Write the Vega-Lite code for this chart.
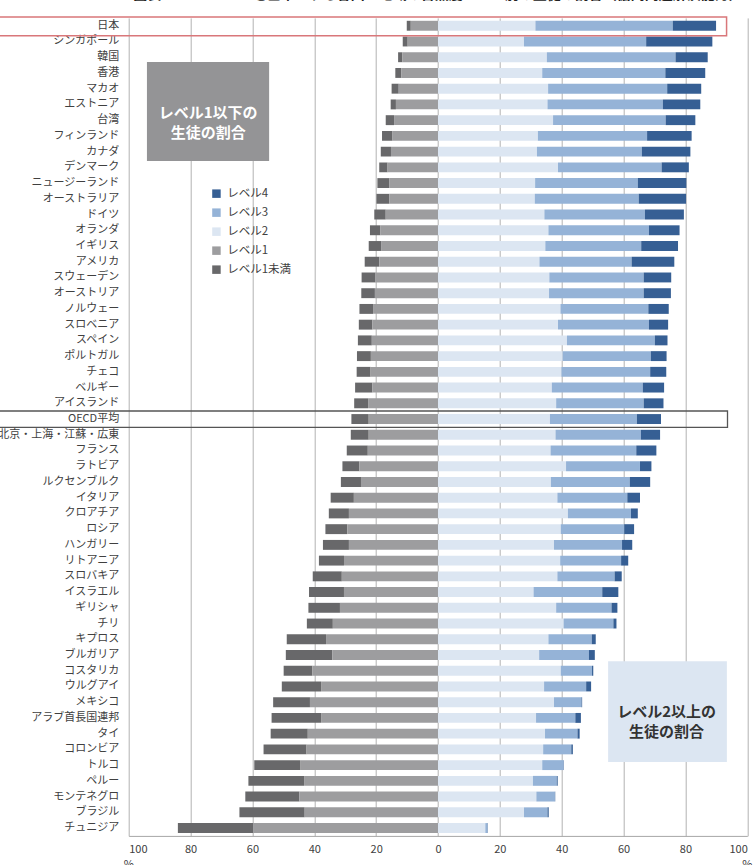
{
  "$schema": "https://vega.github.io/schema/vega-lite/v6.json",
  "autosize": {"type": "none"},
  "padding": {"left": 128.7, "top": 17.9, "right": 7.7, "bottom": 29.1},
  "width": 618.6,
  "height": 818,
  "background": "white",
  "title": {"text": "図表 1-3-4 レベル2を基準とする各国・地域の習熟度レベル別の生徒の割合（協同問題解決能力）", "fontSize": 14, "fontWeight": "bold", "color": "#222222", "anchor": "middle", "offset": 14},
  "config": {"font": "Noto Sans CJK JP", "view": {"stroke": null}},
  "layer": [
    {
      "data": {"values": [
        {"c": "日本", "L1b": -1.3, "L1": -8.8, "L2": 31.5, "L3": 44.4, "L4": 14.0},
        {"c": "シンガポール", "L1b": -1.6, "L1": -9.8, "L2": 27.8, "L3": 39.5, "L4": 21.4},
        {"c": "韓国", "L1b": -1.4, "L1": -11.5, "L2": 35.2, "L3": 41.6, "L4": 10.4},
        {"c": "香港", "L1b": -1.9, "L1": -11.9, "L2": 33.7, "L3": 39.8, "L4": 12.9},
        {"c": "マカオ", "L1b": -2.3, "L1": -12.7, "L2": 35.6, "L3": 38.5, "L4": 11.0},
        {"c": "エストニア", "L1b": -1.7, "L1": -13.6, "L2": 35.4, "L3": 37.3, "L4": 12.1},
        {"c": "台湾", "L1b": -2.7, "L1": -14.2, "L2": 37.2, "L3": 36.4, "L4": 9.6},
        {"c": "フィンランド", "L1b": -3.4, "L1": -14.7, "L2": 32.3, "L3": 35.3, "L4": 14.4},
        {"c": "カナダ", "L1b": -3.3, "L1": -15.2, "L2": 32.0, "L3": 33.9, "L4": 15.7},
        {"c": "デンマーク", "L1b": -2.7, "L1": -16.3, "L2": 38.8, "L3": 33.5, "L4": 8.8},
        {"c": "ニュージーランド", "L1b": -3.8, "L1": -15.8, "L2": 31.4, "L3": 33.2, "L4": 15.7},
        {"c": "オーストラリア", "L1b": -4.2, "L1": -15.7, "L2": 31.3, "L3": 33.6, "L4": 15.3},
        {"c": "ドイツ", "L1b": -3.7, "L1": -16.9, "L2": 34.4, "L3": 32.5, "L4": 12.6},
        {"c": "オランダ", "L1b": -3.4, "L1": -18.6, "L2": 35.7, "L3": 32.5, "L4": 9.9},
        {"c": "イギリス", "L1b": -4.0, "L1": -18.4, "L2": 34.7, "L3": 31.0, "L4": 11.9},
        {"c": "アメリカ", "L1b": -4.7, "L1": -19.0, "L2": 32.8, "L3": 29.8, "L4": 13.8},
        {"c": "スウェーデン", "L1b": -4.5, "L1": -20.2, "L2": 36.0, "L3": 30.5, "L4": 8.9},
        {"c": "オーストリア", "L1b": -4.4, "L1": -20.4, "L2": 35.9, "L3": 30.6, "L4": 8.8},
        {"c": "ノルウェー", "L1b": -4.4, "L1": -21.0, "L2": 39.6, "L3": 28.4, "L4": 6.6},
        {"c": "スロベニア", "L1b": -4.4, "L1": -21.2, "L2": 38.8, "L3": 29.4, "L4": 6.2},
        {"c": "スペイン", "L1b": -4.5, "L1": -21.4, "L2": 41.7, "L3": 28.4, "L4": 4.1},
        {"c": "ポルトガル", "L1b": -4.5, "L1": -21.7, "L2": 40.3, "L3": 28.5, "L4": 5.1},
        {"c": "チェコ", "L1b": -4.5, "L1": -21.8, "L2": 39.9, "L3": 28.7, "L4": 5.2},
        {"c": "ベルギー", "L1b": -5.6, "L1": -21.2, "L2": 36.8, "L3": 29.4, "L4": 6.9},
        {"c": "アイスランド", "L1b": -4.5, "L1": -22.6, "L2": 38.2, "L3": 28.3, "L4": 6.4},
        {"c": "OECD平均", "L1b": -5.6, "L1": -22.4, "L2": 36.2, "L3": 28.1, "L4": 7.8},
        {"c": "北京・上海・江蘇・広東", "L1b": -5.8, "L1": -22.4, "L2": 38.0, "L3": 27.6, "L4": 6.2},
        {"c": "フランス", "L1b": -6.8, "L1": -22.7, "L2": 36.4, "L3": 27.7, "L4": 6.5},
        {"c": "ラトビア", "L1b": -5.5, "L1": -25.4, "L2": 41.4, "L3": 23.9, "L4": 3.7},
        {"c": "ルクセンブルク", "L1b": -6.5, "L1": -24.9, "L2": 36.5, "L3": 25.5, "L4": 6.6},
        {"c": "イタリア", "L1b": -7.5, "L1": -27.2, "L2": 38.6, "L3": 22.6, "L4": 4.1},
        {"c": "クロアチア", "L1b": -6.5, "L1": -28.8, "L2": 42.0, "L3": 20.4, "L4": 2.2},
        {"c": "ロシア", "L1b": -7.1, "L1": -29.3, "L2": 39.7, "L3": 20.5, "L4": 3.2},
        {"c": "ハンガリー", "L1b": -8.4, "L1": -28.8, "L2": 37.5, "L3": 22.0, "L4": 3.3},
        {"c": "リトアニア", "L1b": -8.1, "L1": -30.4, "L2": 39.5, "L3": 19.7, "L4": 2.3},
        {"c": "スロバキア", "L1b": -9.4, "L1": -31.1, "L2": 38.6, "L3": 18.5, "L4": 2.3},
        {"c": "イスラエル", "L1b": -11.3, "L1": -30.4, "L2": 30.9, "L3": 22.2, "L4": 5.2},
        {"c": "ギリシャ", "L1b": -10.2, "L1": -31.7, "L2": 38.2, "L3": 17.9, "L4": 1.9},
        {"c": "チリ", "L1b": -8.4, "L1": -34.0, "L2": 40.6, "L3": 16.1, "L4": 1.0},
        {"c": "キプロス", "L1b": -12.7, "L1": -36.2, "L2": 35.7, "L3": 14.0, "L4": 1.3},
        {"c": "ブルガリア", "L1b": -15.0, "L1": -34.2, "L2": 32.7, "L3": 16.1, "L4": 1.9},
        {"c": "コスタリカ", "L1b": -9.3, "L1": -40.6, "L2": 39.7, "L3": 10.1, "L4": 0.4},
        {"c": "ウルグアイ", "L1b": -12.7, "L1": -37.8, "L2": 34.3, "L3": 13.6, "L4": 1.6},
        {"c": "メキシコ", "L1b": -11.9, "L1": -41.4, "L2": 37.5, "L3": 8.9, "L4": 0.2},
        {"c": "アラブ首長国連邦", "L1b": -16.0, "L1": -37.8, "L2": 31.7, "L3": 12.7, "L4": 1.8},
        {"c": "タイ", "L1b": -12.0, "L1": -42.1, "L2": 34.6, "L3": 10.5, "L4": 0.7},
        {"c": "コロンビア", "L1b": -13.9, "L1": -42.5, "L2": 34.0, "L3": 9.1, "L4": 0.5},
        {"c": "トルコ", "L1b": -14.8, "L1": -44.6, "L2": 33.7, "L3": 6.9, "L4": 0.1},
        {"c": "ペルー", "L1b": -18.0, "L1": -43.3, "L2": 30.7, "L3": 7.7, "L4": 0.3},
        {"c": "モンテネグロ", "L1b": -17.5, "L1": -44.8, "L2": 31.8, "L3": 6.0, "L4": 0.1},
        {"c": "ブラジル", "L1b": -21.1, "L1": -43.1, "L2": 27.8, "L3": 7.6, "L4": 0.4},
        {"c": "チュニジア", "L1b": -24.4, "L1": -59.7, "L2": 15.3, "L3": 0.7, "L4": 0.1}
      ]},
      "transform": [{"fold": ["L1b", "L1", "L2", "L3", "L4"], "as": ["key", "value"]}],
      "mark": {"type": "bar"},
      "encoding": {
        "y": {"field": "c", "type": "nominal", "sort": null,
          "scale": {"paddingInner": 0.37, "paddingOuter": 0.185},
          "axis": {"title": null, "ticks": false, "domain": false, "labelPadding": 10, "labelFontSize": 11, "labelColor": "#404040", "labelLimit": 200}},
        "x": {"field": "value", "type": "quantitative", "stack": "zero",
          "scale": {"domain": [-100, 100], "nice": false},
          "axis": {"title": null, "values": [-100, -80, -60, -40, -20, 0, 20, 40, 60, 80, 100], "labelExpr": "abs(datum.value)", "grid": true, "gridColor": "#b3b3b3", "ticks": false, "domainColor": "#a6a6a6", "labelFontSize": 11, "labelColor": "#404040", "labelPadding": 8}},
        "color": {"field": "key", "type": "nominal",
          "scale": {"domain": ["L4", "L3", "L2", "L1", "L1b"], "range": ["#365f94", "#95b3d7", "#dce6f2", "#9d9d9f", "#68686a"]},
          "legend": {"title": null, "orient": "none", "legendX": 82, "legendY": 170, "symbolType": "square", "symbolSize": 72, "symbolStrokeWidth": 0, "labelFontSize": 11.5, "labelColor": "#404040", "rowPadding": 6, "labelOffset": 5, "padding": 0,
            "labelExpr": "datum.value == 'L4' ? 'レベル4' : datum.value == 'L3' ? 'レベル3' : datum.value == 'L2' ? 'レベル2' : datum.value == 'L1' ? 'レベル1' : 'レベル1未満'"}},
        "order": {"field": "key", "sort": "ascending"}
      }
    },
    {
      "encoding": {
        "y": {"field": "r1", "type": "quantitative", "scale": {"domain": [0, 52], "reverse": true, "nice": false, "zero": false}, "axis": null}
      },
      "layer": [
        {
          "data": {"values": [{"x1": -94.1, "x2": -54.6, "r1": 2.8, "r2": 9.1}]},
          "mark": {"type": "rect", "fill": "#949496"},
          "encoding": {"x": {"field": "x1", "type": "quantitative"}, "x2": {"field": "x2"}, "y2": {"field": "r2"}}
        },
        {
          "data": {"values": [{"x1": 55.0, "x2": 93.4, "r1": 40.9, "r2": 47.3}]},
          "mark": {"type": "rect", "fill": "#dce6f2"},
          "encoding": {"x": {"field": "x1", "type": "quantitative"}, "x2": {"field": "x2"}, "y2": {"field": "r2"}}
        },
        {
          "data": {"values": [{"x1": -74.3, "r1": 6.05, "t": "レベル1以下の\n生徒の割合"}]},
          "mark": {"type": "text", "color": "white", "fontSize": 15, "fontWeight": "bold", "lineBreak": "\n", "lineHeight": 20, "align": "center", "baseline": "middle"},
          "encoding": {"x": {"field": "x1", "type": "quantitative"}, "text": {"field": "t"}}
        },
        {
          "data": {"values": [{"x1": 73.9, "r1": 44.1, "t": "レベル2以上の\n生徒の割合"}]},
          "mark": {"type": "text", "color": "#333333", "fontSize": 15, "fontWeight": "bold", "lineBreak": "\n", "lineHeight": 20, "align": "center", "baseline": "middle"},
          "encoding": {"x": {"field": "x1", "type": "quantitative"}, "text": {"field": "t"}}
        },
        {
          "data": {"values": [{"x1": -142, "x2": 93.3, "r1": -0.06, "r2": 1.13}]},
          "mark": {"type": "rect", "filled": false, "stroke": "#d9777a", "strokeWidth": 1.5},
          "encoding": {"x": {"field": "x1", "type": "quantitative"}, "x2": {"field": "x2"}, "y2": {"field": "r2"}}
        },
        {
          "data": {"values": [{"x1": -142, "x2": 93.6, "r1": 24.99, "r2": 26.03}]},
          "mark": {"type": "rect", "filled": false, "stroke": "#555555", "strokeWidth": 1.3},
          "encoding": {"x": {"field": "x1", "type": "quantitative"}, "x2": {"field": "x2"}, "y2": {"field": "r2"}}
        },
        {
          "data": {"values": [{"x1": -100, "r1": 53.5, "t": "%"}, {"x1": 100, "r1": 53.5, "t": "%"}]},
          "mark": {"type": "text", "color": "#404040", "fontSize": 11, "baseline": "top", "align": "center"},
          "encoding": {"x": {"field": "x1", "type": "quantitative"}, "text": {"field": "t"}}
        }
      ]
    }
  ],
  "resolve": {"scale": {"y": "independent"}}
}
